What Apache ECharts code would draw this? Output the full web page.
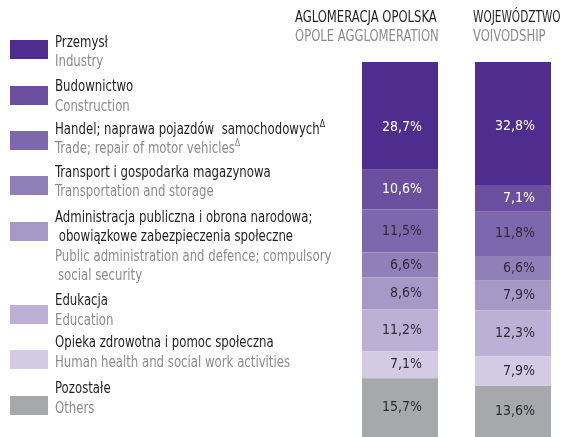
<!DOCTYPE html>
<html>
<head>
<meta charset="utf-8">
<script src="https://cdn.jsdelivr.net/npm/echarts@6/dist/echarts.min.js"></script>
<style>
  html, body { margin: 0; padding: 0; background: #fff; }
  #chart { width: 570px; height: 437px; }
</style>
</head>
<body>
<div id="chart"></div>
<script>
// kategorie (słupki)
const categories = ["Aglomeracja opolska", "Województwo"];
const headersPl = ["AGLOMERACJA OPOLSKA", "WOJEWÓDZTWO"];
const headersEn = ["OPOLE AGGLOMERATION", "VOIVODSHIP"];

// sekcje PKD - nazwy polskie i angielskie (linie legendy)
const sectorsPl = [
  ["Przemysł"],
  ["Budownictwo"],
  ["Handel; naprawa pojazdów  samochodowych"],
  ["Transport i gospodarka magazynowa"],
  ["Administracja publiczna i obrona narodowa;", " obowiązkowe zabezpieczenia społeczne"],
  ["Edukacja"],
  ["Opieka zdrowotna i pomoc społeczna"],
  ["Pozostałe"]
];
const sectorsEn = [
  ["Industry"],
  ["Construction"],
  ["Trade; repair of motor vehicles"],
  ["Transportation and storage"],
  ["Public administration and defence; compulsory", "social security"],
  ["Education"],
  ["Human health and social work activities"],
  ["Others"]
];
// sekcje oznaczone delta
const withDelta = [false, false, true, false, false, false, false, false];

// udziały w %
const aglomeracja = [28.7, 10.6, 11.5, 6.6, 8.6, 11.2, 7.1, 15.7];
const wojewodztwo = [32.8, 7.1, 11.8, 6.6, 7.9, 12.3, 7.9, 13.6];

const colors = ["#4f2d8e", "#6a4f9f", "#7d67ad", "#917fba", "#a898c8", "#bcb0d7", "#d3cae4", "#a7a8ab"];

const FONT = '"DejaVu Sans Condensed", sans-serif';
const DARK = "#231f20";
const GREY = "#8b8b8d";
const SQUEEZE = 0.87; // zwężenie tekstu (krój condensed)

// układ legendy: góra kwadratu, środek pierwszej linii tytułu, środek pierwszej linii opisu
const legendLayout = [
  { box: 40, title: 43, sub: 62 },
  { box: 86, title: 87.5, sub: 107 },
  { box: 131, title: 130.5, sub: 149.5 },
  { box: 176, title: 173, sub: 192 },
  { box: 222, title: 218.5, sub: 257.5 },
  { box: 305, title: 301.5, sub: 321.5 },
  { box: 350, title: 343.5, sub: 363.5 },
  { box: 396, title: 389, sub: 409 }
];
const LINE = 19;

function legendText(t, x, y, fill, delta) {
  return {
    type: "text",
    x: x,
    y: y,
    scaleX: SQUEEZE,
    style: {
      text: delta ? `{t|${t}}{s|Δ}` : t,
      font: `15px ${FONT}`,
      fill: fill,
      textVerticalAlign: "middle",
      rich: {
        t: { font: `15px ${FONT}`, fill: fill, lineHeight: 22 },
        s: { font: `10px ${FONT}`, fill: fill, verticalAlign: "top", lineHeight: 22 }
      }
    }
  };
}

const graphic = [];
sectorsPl.forEach((lines, i) => {
  const lay = legendLayout[i];
  graphic.push({
    type: "rect",
    shape: { x: 10, y: lay.box, width: 38, height: 19 },
    style: { fill: colors[i] }
  });
  lines.forEach((t, k) => {
    graphic.push(legendText(t, 55, lay.title + k * LINE, DARK, withDelta[i]));
  });
  sectorsEn[i].forEach((t, k) => {
    graphic.push(legendText(t, k > 0 ? 58 : 55, lay.sub + k * LINE, GREY, withDelta[i]));
  });
});

// nagłówki kolumn
const headerX = [295, 473];
const headerSqueeze = [0.86, 0.78];
headersPl.forEach((h, i) => {
  graphic.push({
    type: "text", x: headerX[i], y: 18, scaleX: headerSqueeze[i],
    style: { text: h, font: `15px ${FONT}`, fill: DARK, textVerticalAlign: "middle" }
  });
  graphic.push({
    type: "text", x: headerX[i], y: 37.5, scaleX: 0.86,
    style: { text: headersEn[i], font: `15px ${FONT}`, fill: GREY, textVerticalAlign: "middle" }
  });
});

const series = sectorsPl.map((lines, i) => ({
  name: lines.join(" "),
  type: "bar",
  stack: "total",
  barWidth: 76,
  itemStyle: { color: colors[i] },
  label: {
    show: true,
    position: "insideRight",
    distance: 16,
    color: i < 2 ? "#ffffff" : "#2f2b36",
    fontFamily: FONT,
    fontSize: 14,
    formatter: (p) => p.value.toFixed(1).replace(".", ",") + "%"
  },
  // w oryginale etykieta przemysłu (aglomeracja) jest nieco niżej
  data: [
    i === 0 ? { value: aglomeracja[i], label: { offset: [0, 12] } } : aglomeracja[i],
    i === 0 ? { value: wojewodztwo[i], label: { offset: [0, 3] } } : wojewodztwo[i]
  ]
}));

const chart = echarts.init(document.getElementById("chart"), null, { renderer: "canvas" });
chart.setOption({
  animation: false,
  grid: { left: 343.5, width: 226, top: 62, height: 380 },
  xAxis: { type: "category", data: categories, show: false },
  yAxis: { type: "value", min: 0, max: 100, inverse: true, show: false },
  graphic: graphic,
  series: series
});
</script>
</body>
</html>
